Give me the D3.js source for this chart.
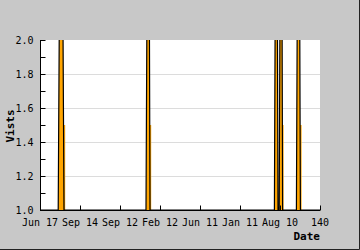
<!DOCTYPE html>
<html>
<head>
<meta charset="utf-8">
<script src="https://cdn.jsdelivr.net/npm/d3@7"></script>
<style>
  body { margin: 0; background: #c8c8c8; }
  svg { display: block; }
</style>
</head>
<body>
<svg width="360" height="250"></svg>
<script>
// visits (area with black line), spikes are clipped at the top of the chart
var visits = [
  [0, 1], [9.1, 1], [10.6, 4], [12.0, 1],
  [53.0, 1], [54.2, 4], [55.0, 1],
  [117.2, 1], [118.2, 4], [119.0, 1], [119.6, 1], [120.6, 4], [121.3, 1],
  [128.2, 1], [129.3, 4], [130.2, 1], [140, 1]
]
// second (step area just after each spike)
var second = [
  [0, 1], [11.6, 1.5], [12.6, 1], [54.6, 1.5], [55.6, 1],
  [120.8, 1.5], [121.8, 1], [129.8, 1.5], [130.8, 1], [140, 1]
]
var xTicks = [0, 20, 40, 60, 80, 100, 120, 140]
var xLabels = ['Jun 17', 'Sep 14', 'Sep 12', 'Feb 12', 'Jun 11', 'Jan 11', 'Aug 10', '140']
var yTicks = [1.0, 1.2, 1.4, 1.6, 1.8, 2.0]
var yMinor = [1.1, 1.3, 1.5, 1.7, 1.9]

var svg = d3.select('svg')
var margin = { top: 40, right: 40, bottom: 40, left: 40 }
var width = Number(svg.attr('width')) - margin.left - margin.right
var height = Number(svg.attr('height')) - margin.top - margin.bottom
var font = 'DejaVu Sans Mono'

svg.append('rect').attr('width', 360).attr('height', 250).attr('fill', '#c8c8c8')
svg.append('path').attr('d', 'M359.5,0V249.5H0').attr('fill', 'none').attr('stroke', '#222')

var g = svg.append('g')
  .attr('transform', 'translate(' + margin.left + ',' + margin.top + ')')

var x = d3.scaleLinear().domain([0, 140]).range([0, width])
var y = d3.scaleLinear().domain([1, 2]).range([height, 0])

g.append('defs').append('clipPath').attr('id', 'clip')
  .append('rect').attr('width', width).attr('height', height)

g.append('rect').attr('width', width).attr('height', height).attr('fill', '#fff')

// grid
g.selectAll('.grid').data(yTicks.slice(1, -1)).enter().append('line')
  .attr('x1', 0).attr('x2', width)
  .attr('y1', function (d) { return Math.round(y(d)) + 0.5 })
  .attr('y2', function (d) { return Math.round(y(d)) + 0.5 })
  .attr('stroke', '#dcdcdc')

var plot = g.append('g').attr('clip-path', 'url(#clip)')

var area2 = d3.area().curve(d3.curveStepAfter)
  .x(function (d) { return x(d[0]) })
  .y0(height)
  .y1(function (d) { return y(d[1]) })

plot.append('path').datum(second)
  .attr('fill', '#ffa500')
  .attr('d', area2)

var area = d3.area()
  .x(function (d) { return x(d[0]) })
  .y0(height)
  .y1(function (d) { return y(d[1]) })
var line = d3.line()
  .x(function (d) { return x(d[0]) })
  .y(function (d) { return y(d[1]) })

plot.append('path').datum(visits)
  .attr('fill', '#ffa500')
  .attr('d', area)
plot.append('path').datum(visits)
  .attr('fill', 'none')
  .attr('stroke', '#000')
  .attr('stroke-width', 1.2)
  .attr('d', line)

// y axis
var yAxis = g.append('g').attr('transform', 'translate(0.5,0)')
yAxis.append('line').attr('y1', 0).attr('y2', height).attr('stroke', '#000')
yAxis.selectAll('.tk').data(yTicks.concat(yMinor)).enter().append('line')
  .attr('x1', 0).attr('x2', 5)
  .attr('y1', function (d) { return Math.round(y(d)) + 0.5 })
  .attr('y2', function (d) { return Math.round(y(d)) + 0.5 })
  .attr('stroke', '#000')
yAxis.selectAll('text').data(yTicks).enter().append('text')
  .attr('x', -7)
  .attr('y', function (d) { return y(d) + 4 })
  .attr('text-anchor', 'end')
  .attr('font-family', font).attr('font-size', 10)
  .text(function (d) { return d.toFixed(1) })

// x axis
var xAxis = g.append('g').attr('transform', 'translate(0,' + (height + 0.5) + ')')
xAxis.append('line').attr('x1', 0).attr('x2', width).attr('stroke', '#000')
xAxis.selectAll('.tk').data(xTicks).enter().append('line')
  .attr('x1', function (d) { return Math.round(x(d)) + 0.5 })
  .attr('x2', function (d) { return Math.round(x(d)) + 0.5 })
  .attr('y1', 0).attr('y2', -5)
  .attr('stroke', '#000')
xAxis.selectAll('text').data(xTicks).enter().append('text')
  .attr('x', function (d) { return x(d) })
  .attr('y', 15)
  .attr('text-anchor', 'middle')
  .attr('font-family', font).attr('font-size', 10)
  .text(function (d, i) { return xLabels[i] })

// titles
svg.append('text')
  .attr('x', 320).attr('y', 240)
  .attr('text-anchor', 'end')
  .attr('font-family', font).attr('font-size', 11).attr('font-weight', 'bold')
  .text('Date')
svg.append('text')
  .attr('transform', 'translate(14,126) rotate(-90)')
  .attr('text-anchor', 'middle')
  .attr('font-family', font).attr('font-size', 11).attr('font-weight', 'bold')
  .text('Vists')
</script>
</body>
</html>
